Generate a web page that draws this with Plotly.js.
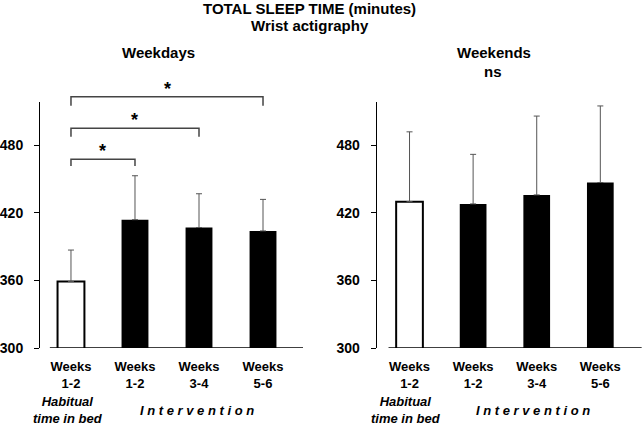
<!DOCTYPE html>
<html>
<head>
<meta charset="utf-8">
<script src="https://cdn.plot.ly/plotly-3.0.1.min.js"></script>
<style>html,body{margin:0;padding:0;background:#fff;}#chart{width:643px;height:425px;}</style>
</head>
<body>
<div id="chart"></div>
<script>
// ---- data ----
const categories = ['Weeks<br>1-2', 'Weeks<br>1-2', 'Weeks<br>3-4', 'Weeks<br>5-6'];
const xPos = [0, 1, 2, 3];
const weekdayMean = [359, 414, 407, 404];
const weekdaySD = [28, 39, 30, 28];
const weekendMean = [430, 428, 436, 447];
const weekendSD = [62, 44, 70, 68];
const yTicks = [300, 360, 420, 480];
const barColors = ['#ffffff', '#000000', '#000000', '#000000'];
const barLineWidths = [2, 0, 0, 0];
// significance brackets (weekdays): [from, to, label]
const brackets = [[0, 1, '*'], [0, 2, '*'], [0, 3, '*']];

const FONT = 'Liberation Sans, Arial, Helvetica, sans-serif';
const W = 643, H = 425, MT = 102, MB = 77;
const PH = H - MT - MB;
const py = p => (H - MB - p) / PH;   // pixel y -> paper y

function barTrace(mean, sd, xa, ya) {
  return {
    type: 'bar', x: xPos, y: mean, xaxis: xa, yaxis: ya, width: 0.42,
    marker: {color: barColors, line: {color: '#000000', width: barLineWidths}},
    error_y: {type: 'data', symmetric: false, array: sd, arrayminus: sd.map(() => 0),
              color: '#555555', thickness: 1, width: 3},
    hoverinfo: 'skip', showlegend: false
  };
}

const data = [
  barTrace(weekdayMean, weekdaySD, 'x', 'y'),
  barTrace(weekendMean, weekendSD, 'x2', 'y2')
];

const tickFont = {family: FONT, size: 13, color: '#000', weight: 700};
function xax(domain, range, anchor) {
  return {domain: domain, range: range, anchor: anchor, tickvals: xPos, ticktext: categories,
          showline: false, showgrid: false, zeroline: false, ticks: '', tickfont: tickFont,
          ticklabelstandoff: 9, fixedrange: true};
}
function yax(anchor) {
  return {domain: [0, 1], range: [300, 518.5], anchor: anchor, tickvals: yTicks,
          showline: true, linecolor: '#000', linewidth: 1, ticks: 'outside', ticklen: 5,
          tickcolor: '#000', tickwidth: 1, showgrid: false, zeroline: false,
          tickfont: {family: FONT, size: 14, color: '#000', weight: 700},
          ticklabelstandoff: 8, automargin: false, fixedrange: true};
}

const shapes = [
  {type: 'line', xref: 'x', yref: 'y', x0: -0.33, x1: 3.625, y0: 300, y1: 300,
   line: {color: '#000', width: 1.5}},
  {type: 'line', xref: 'x2', yref: 'y2', x0: -0.33, x1: 3.65, y0: 300, y1: 300,
   line: {color: '#000', width: 1.5}}
];
const bracketPix = [[159.3, 166], [128.3, 136.7], [96.7, 105.7]];
const annotations = [];
brackets.forEach((b, i) => {
  const top = py(bracketPix[i][0]), bot = py(bracketPix[i][1]);
  shapes.push({type: 'path', xref: 'x', yref: 'paper',
    path: `M${b[0]},${bot} L${b[0]},${top} L${b[1]},${top} L${b[1]},${bot}`,
    line: {color: '#444', width: 1.5}});
  annotations.push({xref: 'x', yref: 'paper', x: (b[0] + b[1]) / 2, y: top, yanchor: 'bottom',
    yshift: -4, text: b[2], showarrow: false, font: {family: FONT, size: 18, color: '#000', weight: 700}});
});

function txt(x, y, text, size, opts) {
  return Object.assign({xref: 'paper', yref: 'paper', x: x, y: y, text: text, showarrow: false,
    xanchor: 'center', yanchor: 'middle',
    font: {family: FONT, size: size, color: '#000', weight: 700}}, opts || {});
}
annotations.push(txt(309 / W, py(8), 'TOTAL SLEEP TIME (minutes)', 15));
annotations.push(txt(310 / W, py(25), 'Wrist actigraphy', 15));
annotations.push(txt(158 / W, py(53), 'Weekdays', 15));
annotations.push(txt(494 / W, py(53), 'Weekends', 15));
annotations.push(txt(493 / W, py(71), 'ns', 15));
const italic = {family: FONT, size: 13, color: '#000', weight: 700, style: 'italic'};
annotations.push(txt(68 / W, py(410), 'Habitual<br>time in bed', 13, {font: italic}));
annotations.push(txt(406 / W, py(410), 'Habitual<br>time in bed', 13, {font: italic}));
annotations.push(txt(197 / W, py(410), 'I n t e r v e n t i o n', 13, {font: italic}));
annotations.push(txt(533 / W, py(410), 'I n t e r v e n t i o n', 13, {font: italic}));

const layout = {
  width: W, height: H, margin: {l: 0, r: 0, t: MT, b: MB, pad: 0},
  paper_bgcolor: '#fff', plot_bgcolor: '#fff', showlegend: false, bargap: 0,
  xaxis: xax([40 / W, 305 / W], [-0.484, 3.656], 'y'),
  yaxis: yax('x'),
  xaxis2: xax([376.7 / W, 1], [-0.516, 3.671], 'y2'),
  yaxis2: yax('x2'),
  shapes: shapes, annotations: annotations
};

Plotly.newPlot('chart', data, layout, {staticPlot: true, displayModeBar: false});
</script>
</body>
</html>
